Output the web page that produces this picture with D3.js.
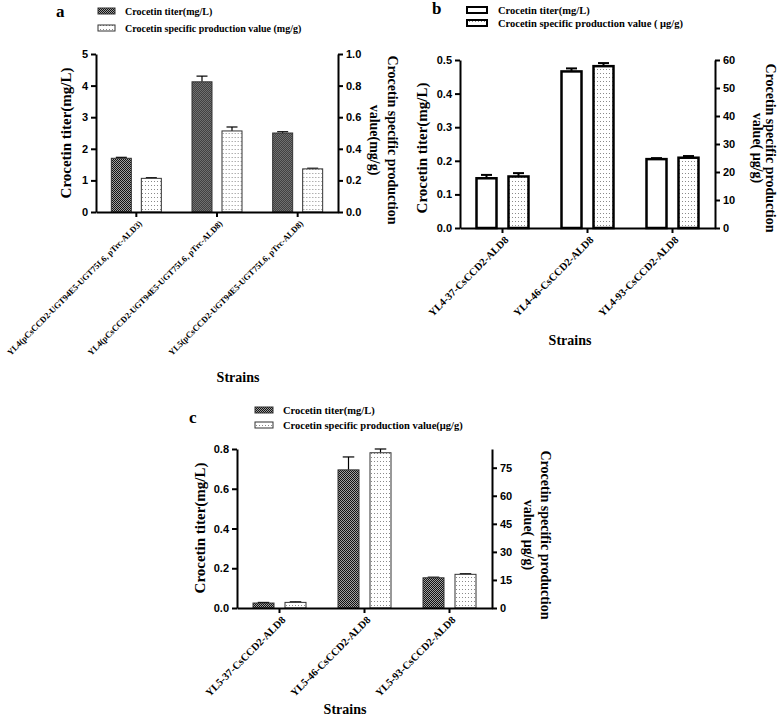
<!DOCTYPE html>
<html>
<head>
<meta charset="utf-8">
<script src="https://cdn.jsdelivr.net/npm/d3@7"></script>
<style>
  body { margin: 0; background: #fff; }
  svg { display: block; }
</style>
</head>
<body>
<svg id="chart" width="779" height="718"></svg>
<script>
// ---- data ----
const strainsA = ["YL4(pCsCCD2-UGT94E5-UGT75L6, pTrc-ALD3)", "YL4(pCsCCD2-UGT94E5-UGT75L6, pTrc-ALD8)", "YL5(pCsCCD2-UGT94E5-UGT75L6, pTrc-ALD8)"];
const titerA = [1.70, 4.12, 2.50];
const titerErrA = [0.03, 0.18, 0.04];
const specA = [0.213, 0.513, 0.273];
const specErrA = [0.004, 0.025, 0.004];

const strainsB = ["YL4-37-CsCCD2-ALD8", "YL4-46-CsCCD2-ALD8", "YL4-93-CsCCD2-ALD8"];
const titerB = [0.148, 0.466, 0.205];
const titerErrB = [0.010, 0.009, 0.003];
const specB = [18.4, 57.8, 25.1];
const specErrB = [1.2, 1.1, 0.6];

const strainsC = ["YL5-37-CsCCD2-ALD8", "YL5-46-CsCCD2-ALD8", "YL5-93-CsCCD2-ALD8"];
const titerC = [0.025, 0.695, 0.152];
const titerErrC = [0.003, 0.065, 0.003];
const specC = [3.0, 83.0, 18.0];
const specErrC = [0.3, 2.0, 0.3];

const ticksLeftA = [0, 1, 2, 3, 4, 5];
const ticksRightA = [0, 0.2, 0.4, 0.6, 0.8, 1.0];
const ticksLeftB = [0, 0.1, 0.2, 0.3, 0.4, 0.5];
const ticksRightB = [0, 10, 20, 30, 40, 50, 60];
const ticksLeftC = [0, 0.2, 0.4, 0.6, 0.8];
const ticksRightC = [0, 15, 30, 45, 60, 75];

const SERIF = "'Liberation Serif', 'Times New Roman', serif";
const SANS = "'Liberation Sans', Arial, sans-serif";

const svg = d3.select("#chart");

// fill patterns
const defs = svg.append("defs");
const checker = defs.append("pattern").attr("id", "checker")
  .attr("patternUnits", "userSpaceOnUse").attr("width", 2).attr("height", 2);
checker.append("rect").attr("width", 2).attr("height", 2).attr("fill", "#a0a0a0");
checker.append("rect").attr("width", 1).attr("height", 1).attr("fill", "#111");
checker.append("rect").attr("x", 1).attr("y", 1).attr("width", 1).attr("height", 1).attr("fill", "#111");

const dots = defs.append("pattern").attr("id", "dots")
  .attr("patternUnits", "userSpaceOnUse").attr("width", 3).attr("height", 4);
dots.append("rect").attr("width", 3).attr("height", 4).attr("fill", "#fff");
dots.append("rect").attr("x", 1).attr("y", 1).attr("width", 1).attr("height", 1).attr("fill", "#8a8a8a");

function drawPanel(p) {
  const g = svg.append("g");

  const x0 = d3.scaleBand().domain(p.strains).range([p.left, p.right]);
  const xs = d3.scaleBand().domain(["titer", "spec"])
    .range([x0.bandwidth() / 2 - p.off - p.barW / 2, x0.bandwidth() / 2 + p.off + p.barW / 2])
    .paddingInner((2 * p.off - p.barW) / (2 * p.off));
  const yL = d3.scaleLinear().domain(p.leftDomain).range([p.bottom, p.top]);
  const yR = d3.scaleLinear().domain(p.rightDomain).range([p.bottom, p.top]);

  const rows = p.strains.map((s, i) => ({
    s, t: p.titer[i], te: p.titerErr[i], v: p.spec[i], ve: p.specErr[i]
  }));

  const sw = p.thick ? 2.5 : 1;
  const stroke = p.thick ? "#000" : "#333";

  const grp = g.selectAll(".grp").data(rows).join("g")
    .attr("transform", d => `translate(${x0(d.s)},0)`);

  // error bars (upper only) drawn under bars
  const cap = p.barW * 0.55;
  const errs = [
    { key: "titer", val: d => d.t, err: d => d.te, y: yL },
    { key: "spec", val: d => d.v, err: d => d.ve, y: yR }
  ];
  errs.forEach(e => {
    const cx = xs(e.key) + xs.bandwidth() / 2;
    grp.append("line")
      .attr("x1", cx).attr("x2", cx)
      .attr("y1", d => e.y(e.val(d))).attr("y2", d => e.y(e.val(d) + e.err(d)))
      .attr("stroke", "#000").attr("stroke-width", p.thick ? 2 : 1.2);
    grp.append("line")
      .attr("x1", cx - cap / 2).attr("x2", cx + cap / 2)
      .attr("y1", d => e.y(e.val(d) + e.err(d))).attr("y2", d => e.y(e.val(d) + e.err(d)))
      .attr("stroke", "#000").attr("stroke-width", p.thick ? 2 : 1.2);
  });

  grp.append("rect")
    .attr("x", xs("titer")).attr("width", xs.bandwidth())
    .attr("y", d => yL(d.t)).attr("height", d => yL(0) - yL(d.t))
    .attr("fill", p.titerFill).attr("stroke", stroke).attr("stroke-width", sw);
  grp.append("rect")
    .attr("x", xs("spec")).attr("width", xs.bandwidth())
    .attr("y", d => yR(d.v)).attr("height", d => yR(0) - yR(d.v))
    .attr("fill", "url(#dots)").attr("stroke", stroke).attr("stroke-width", sw);

  // axes
  const styleAxis = sel => {
    sel.selectAll(".domain").attr("stroke", "#000").attr("stroke-width", 2);
    sel.selectAll(".tick line").attr("stroke", "#000").attr("stroke-width", 2);
    sel.selectAll(".tick text").attr("fill", "#000")
      .style("font-family", SANS).style("font-weight", "bold").style("font-size", "11px");
  };

  g.append("g").attr("transform", `translate(${p.left},0)`)
    .call(d3.axisLeft(yL).tickValues(p.leftTicks).tickFormat(d3.format(p.leftFmt))
      .tickSize(5).tickSizeOuter(0).tickPadding(3))
    .call(styleAxis);

  g.append("g").attr("transform", `translate(${p.right},0)`)
    .call(d3.axisRight(yR).tickValues(p.rightTicks).tickFormat(d3.format(p.rightFmt))
      .tickSize(5).tickSizeOuter(0).tickPadding(3))
    .call(styleAxis);

  const xAxis = g.append("g").attr("transform", `translate(0,${p.bottom})`)
    .call(d3.axisBottom(x0).tickSize(5).tickSizeOuter(0))
    .call(styleAxis);
  xAxis.selectAll(".tick text")
    .attr("x", 0).attr("y", 0).attr("dy", "0.35em")
    .attr("text-anchor", "end")
    .attr("transform", "translate(4,10) rotate(-45)")
    .style("font-family", SERIF).style("font-size", p.labelFont + "px");

  // titles
  const title = (x, y, rot, txt, size) =>
    g.append("text").attr("transform", `translate(${x},${y}) rotate(${rot})`)
      .attr("text-anchor", "middle").attr("dominant-baseline", "central")
      .style("font-family", SERIF).style("font-weight", "bold").style("font-size", size + "px")
      .text(txt);

  title(p.leftTitle[0], p.leftTitle[1], -90, "Crocetin titer(mg/L)", 15);
  p.rightTitle.forEach(r => title(r[0], p.rightTitleY, 90, r[1], 14));
  g.append("text").attr("x", p.strainsPos[0]).attr("y", p.strainsPos[1])
    .attr("text-anchor", "middle")
    .style("font-family", SERIF).style("font-weight", "bold").style("font-size", "14px")
    .text("Strains");

  g.append("text").attr("x", p.letter[0]).attr("y", p.letter[1])
    .style("font-family", SERIF).style("font-weight", "bold").style("font-size", "17px")
    .text(p.letter[2]);

  // legend
  const L = p.legend;
  const fills = [p.titerFill, "url(#dots)"];
  L.texts.forEach((t, i) => {
    g.append("rect").attr("x", L.sx).attr("y", L.ys[i] - L.h / 2)
      .attr("width", L.w).attr("height", L.h)
      .attr("fill", fills[i]).attr("stroke", stroke).attr("stroke-width", p.thick ? 2 : 1);
    g.append("text").attr("x", L.tx).attr("y", L.ys[i]).attr("dy", "0.35em")
      .style("font-family", SERIF).style("font-weight", "bold").style("font-size", L.size + "px")
      .text(t);
  });
}

drawPanel({
  strains: strainsA, titer: titerA, titerErr: titerErrA, spec: specA, specErr: specErrA,
  left: 96, right: 338, top: 54, bottom: 212,
  leftDomain: [0, 5], rightDomain: [0, 1],
  leftTicks: ticksLeftA, rightTicks: ticksRightA, leftFmt: "d", rightFmt: ".1f",
  barW: 20, off: 15, thick: false, titerFill: "url(#checker)", labelFont: 8.6,
  leftTitle: [66, 133], rightTitle: [[392, "Crocetin specific production"], [374, "value(mg/g)"]], rightTitleY: 140,
  strainsPos: [238, 382], letter: [56, 17, "a"],
  legend: { sx: 98, tx: 125, ys: [11, 28], w: 17, h: 6, size: 10,
    texts: ["Crocetin titer(mg/L)", "Crocetin specific production value (mg/g)"] }
});

drawPanel({
  strains: strainsB, titer: titerB, titerErr: titerErrB, spec: specB, specErr: specErrB,
  left: 460, right: 715, top: 60, bottom: 228,
  leftDomain: [0, 0.5], rightDomain: [0, 60],
  leftTicks: ticksLeftB, rightTicks: ticksRightB, leftFmt: ".1f", rightFmt: "d",
  barW: 20, off: 16, thick: true, titerFill: "#fff", labelFont: 10.5,
  leftTitle: [422, 148], rightTitle: [[770, "Crocetin specific production"], [757, "value( μg/g)"]], rightTitleY: 148,
  strainsPos: [570, 345], letter: [432, 14, "b"],
  legend: { sx: 467, tx: 498, ys: [10, 23], w: 20, h: 6, size: 10.5,
    texts: ["Crocetin titer(mg/L)", "Crocetin specific production value ( μg/g)"] }
});

drawPanel({
  strains: strainsC, titer: titerC, titerErr: titerErrC, spec: specC, specErr: specErrC,
  left: 237, right: 492, top: 449, bottom: 608,
  leftDomain: [0, 0.8], rightDomain: [0, 85],
  leftTicks: ticksLeftC, rightTicks: ticksRightC, leftFmt: ".1f", rightFmt: "d",
  barW: 21, off: 16, thick: false, titerFill: "url(#checker)", labelFont: 10.5,
  leftTitle: [200, 528], rightTitle: [[545, "Crocetin specific production"], [528, "value( μg/g)"]], rightTitleY: 535,
  strainsPos: [345, 714], letter: [189, 423, "c"],
  legend: { sx: 255, tx: 283, ys: [410, 425], w: 18, h: 6, size: 10.5,
    texts: ["Crocetin titer(mg/L)", "Crocetin specific production value(μg/g)"] }
});
</script>
</body>
</html>
